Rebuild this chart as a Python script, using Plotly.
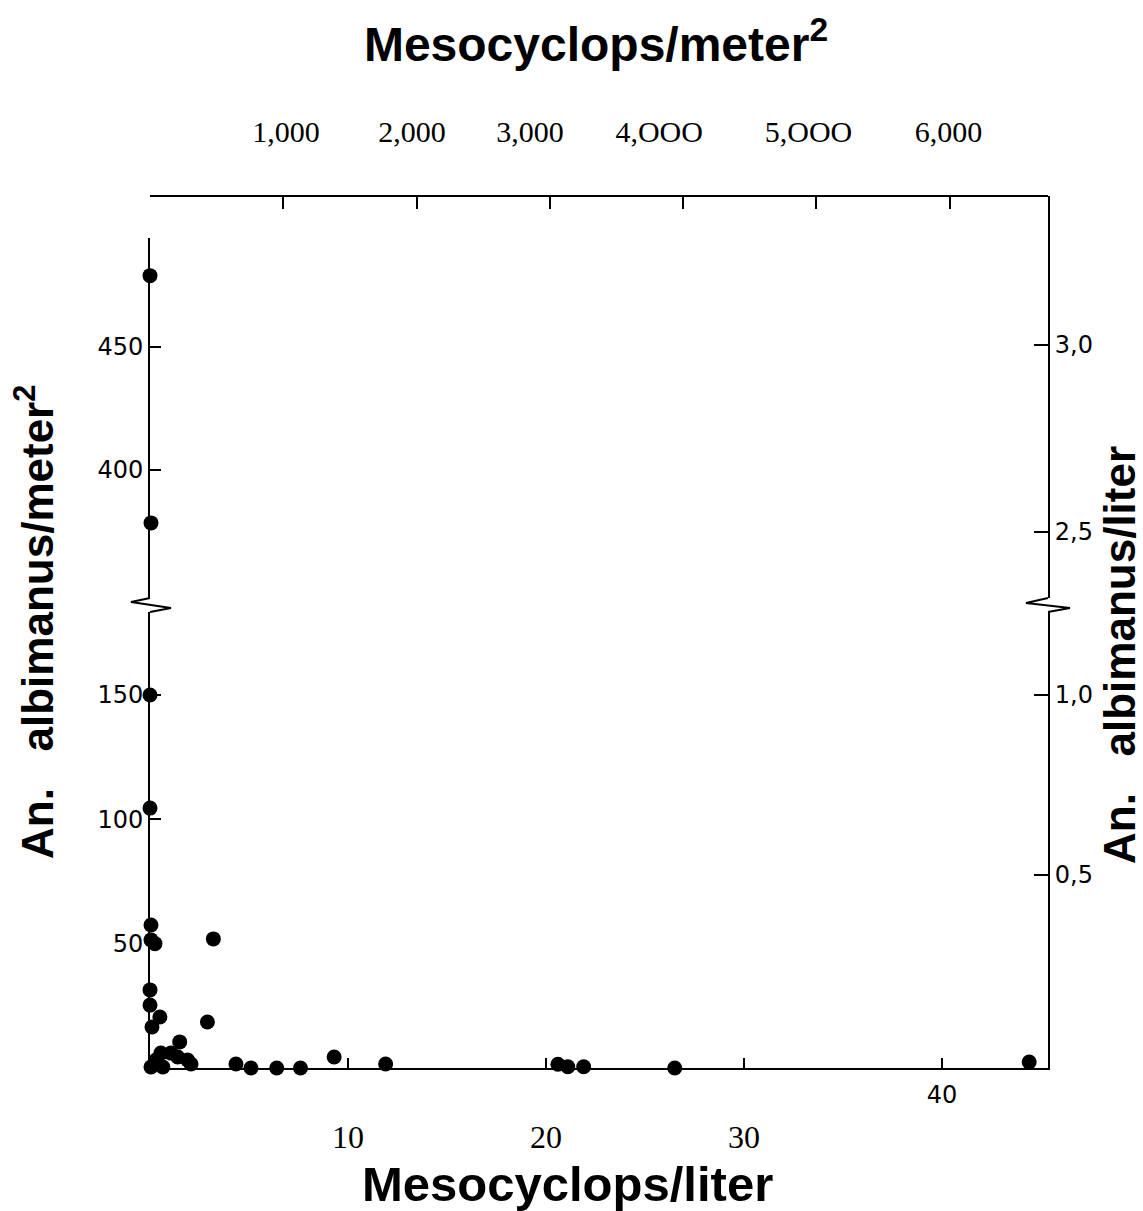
import plotly.graph_objects as go

# ---------------- data ----------------
# lower (unbroken) part of the y scale: An. albimanus per m2 up to ~180
meso_per_liter_low = [0.0, 0.0, 0.05, 0.05, 0.25, 3.2, 0.0, 0.0, 0.5, 0.1, 2.9,
                      1.5, 0.55, 1.06, 1.4, 1.9, 2.07, 0.3, 0.05, 0.65, 4.34,
                      5.1, 6.4, 7.6, 9.3, 11.9, 20.6, 21.1, 21.9, 26.5, 44.4]
albi_per_m2_low = [150, 104.5, 57.5, 51.5, 50.0, 51.9, 31.4, 25.3, 20.5, 16.5, 18.5,
                   10.5, 6.0, 6.0, 4.4, 3.2, 1.6, 3.2, 0.4, 0.4, 1.6,
                   0.0, 0.0, 0.0, 4.4, 1.6, 1.5, 0.5, 0.5, 0.0, 2.4]
# upper part of the broken y scale
meso_per_liter_high = [0.0, 0.05]
albi_per_m2_high = [479, 378.5]

bottom_tick_vals = [10, 20, 30, 40]
bottom_label_vals = [10, 20, 30]
bottom_label_text = ["10", "20", "30"]
bottom_label2_vals = [40]
bottom_label2_text = ["40"]

top_tick_vals = [0, 1000, 2000, 3000, 4000, 5000, 6000]
top_label_pos = [1020, 1965, 2850, 3820, 4940, 5990]
top_label_text = ["1,000", "2,000", "3,000", "4,OOO", "5,OOO", "6,000"]

left_low_ticks = [50, 100, 150]
left_low_text = ["50", "100", "150"]
left_high_ticks = [400, 450]
left_high_text = ["400", "450"]
right_low_ticks = [0.5, 1.0]
right_low_text = ["0,5", "1,0"]
right_high_ticks = [2.5, 3.0]
right_high_text = ["2,5", "3,0"]

# ---------------- figure ----------------
W, H = 1143, 1211
ML, MR, MT, MB = 150, 95, 196, 143
PH = H - MT - MB  # 872
PW = W - ML - MR

def fy(px):  # pixel row -> paper fraction
    return (H - MB - px) / PH

def fx(px):  # pixel column -> paper fraction
    return (px - ML) / PW

low_top = fy(612)
up_bot = fy(598)
left_top = fy(238)

SCAN = "DejaVu Sans"
SERIF = "Liberation Serif"
ARIAL = "Liberation Sans"

fig = go.Figure()
mk = dict(color="black", size=15)
fig.add_trace(go.Scatter(x=meso_per_liter_low, y=albi_per_m2_low, mode="markers",
                         marker=mk, xaxis="x", yaxis="y", cliponaxis=False,
                         showlegend=False))
fig.add_trace(go.Scatter(x=meso_per_liter_high, y=albi_per_m2_high, mode="markers",
                         marker=mk, xaxis="x", yaxis="y2", cliponaxis=False,
                         showlegend=False))
for xa, ya in [("x2", "y"), ("x3", "y"), ("x4", "y"), ("x5", "y"), ("x", "y3"), ("x", "y4")]:
    fig.add_trace(go.Scatter(x=[None], y=[None], xaxis=xa, yaxis=ya, mode="markers",
                             showlegend=False, hoverinfo="skip"))

line = dict(showline=True, linecolor="black", linewidth=2, showgrid=False,
            zeroline=False, mirror=False)
XR = [0, 45.35]
TOPR = [0, 6737]
scan_font = dict(family=SCAN, size=24, color="black")

fig.update_layout(
    width=W, height=H, autosize=False,
    margin=dict(l=ML, r=MR, t=MT, b=MB, pad=0),
    paper_bgcolor="white", plot_bgcolor="rgba(0,0,0,0)",
    showlegend=False,
    title=dict(text="<b>Mesocyclops/meter<sup>2</sup></b>", x=596 / W, xanchor="center",
               y=1 - 44 / H, yanchor="middle", xref="container", yref="container",
               font=dict(family=ARIAL, size=48, color="black")),
    xaxis=dict(domain=[0, 1], anchor="y", range=XR, tickvals=bottom_tick_vals,
               ticks="inside", ticklen=10, tickwidth=2, tickcolor="black",
               showticklabels=False, **line),
    xaxis3=dict(overlaying="x", anchor="y", side="bottom", range=XR,
                tickvals=bottom_label_vals, ticktext=bottom_label_text, ticks="",
                showline=False, showgrid=False, zeroline=False,
                ticklabelstandoff=47, tickfont=dict(family=SERIF, size=32, color="black")),
    xaxis4=dict(overlaying="x", anchor="y", side="bottom", range=XR,
                tickvals=bottom_label2_vals, ticktext=bottom_label2_text, ticks="",
                showline=False, showgrid=False, zeroline=False,
                ticklabelstandoff=10, tickfont=scan_font),
    xaxis2=dict(overlaying="x", anchor="free", position=1, side="top", range=TOPR,
                tickvals=top_tick_vals, ticks="inside", ticklen=12, tickwidth=2,
                tickcolor="black", showticklabels=False, **line),
    xaxis5=dict(overlaying="x", anchor="free", position=1, side="top", range=TOPR,
                tickvals=top_label_pos, ticktext=top_label_text, ticks="",
                showline=False, showgrid=False, zeroline=False,
                ticklabelstandoff=48, tickfont=dict(family=SERIF, size=30, color="black")),
    yaxis=dict(domain=[0, low_top], anchor="x", range=[0, 456 / 2.487],
               tickvals=left_low_ticks, ticktext=left_low_text, ticks="inside",
               ticklen=11, tickwidth=2, tickcolor="black",
               tickfont=scan_font, **line),
    yaxis2=dict(domain=[up_bot, left_top], anchor="x", range=[347.97, 494.3],
                tickvals=left_high_ticks, ticktext=left_high_text, ticks="inside",
                ticklen=11, tickwidth=2, tickcolor="black",
                tickfont=scan_font, **line),
    yaxis3=dict(overlaying="y", anchor="x", side="right", range=[-0.0361, 1.2306],
                tickvals=right_low_ticks, ticktext=right_low_text, ticks="inside",
                ticklen=14, tickwidth=2, tickcolor="black",
                tickfont=scan_font, **line),
    yaxis4=dict(domain=[up_bot, 1], anchor="x", side="right", range=[2.3235, 3.3984],
                tickvals=right_high_ticks, ticktext=right_high_text, ticks="inside",
                ticklen=14, tickwidth=2, tickcolor="black",
                tickfont=scan_font, **line),
)

fig.add_annotation(text="<b>Mesocyclops/liter</b>", xref="paper", yref="paper",
                   x=fx(567), y=fy(1184), xanchor="center",
                   yanchor="middle", showarrow=False,
                   font=dict(family=ARIAL, size=49, color="black"))
fig.add_annotation(text="<b>An.&nbsp;&nbsp; albimanus/meter<sup>2</sup></b>", xref="paper",
                   yref="paper", x=fx(34), y=fy(622),
                   xanchor="center", yanchor="middle", textangle=-90,
                   showarrow=False, font=dict(family=ARIAL, size=44, color="black"))
fig.add_annotation(text="<b>An.&nbsp;&nbsp; albimanus/liter</b>", xref="paper",
                   yref="paper", x=fx(1119), y=fy(655),
                   xanchor="center", yanchor="middle", textangle=-90,
                   showarrow=False, font=dict(family=ARIAL, size=44, color="black"))

# axis-break zigzags (pixel offsets around the break)
zig = dict(type="path", xref="paper", yref="paper", xsizemode="pixel",
           ysizemode="pixel", line=dict(color="black", width=2))
fig.add_shape(xanchor=0, yanchor=fy(605), path="M0,7 L-19,3 L21,-3 L0,-7", **zig)
fig.add_shape(xanchor=1, yanchor=fy(605), path="M0,7 L-22,2 L22,-3 L0,-7", **zig)

fig.write_html("out.html", config={"displayModeBar": False},
               post_script="document.body.style.margin='0';")
